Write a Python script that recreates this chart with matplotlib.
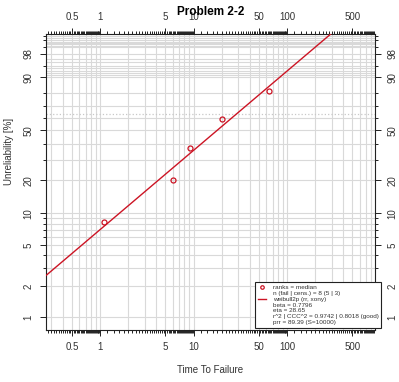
import numpy as np
import matplotlib
matplotlib.use("Agg")
import matplotlib.pyplot as plt
from matplotlib.lines import Line2D
from matplotlib import ticker

plt.rcParams['font.family'] = ['Liberation Sans', 'DejaVu Sans']

# データ
fail_time = [1.1, 6.0, 9.1, 20.0, 64.7]
unrel_pct = [8.33, 20.24, 36.90, 59.13, 81.35]
# 回帰直線 (両端)
line_time = [0.25, 300.0]
line_pct = [2.45, 99.80]

x_labels = [0.5, 1, 5, 10, 50, 100, 500]
y_labels = [1, 2, 5, 10, 20, 50, 90, 98]
legend_text = ["ranks = median", "n (fail | cens.) = 8 (5 | 3)",
               "weibull2p (rr, xony)", "beta = 0.7796", "eta = 28.65",
               "r^2 | CCC^2 = 0.9742 | 0.8018 (good)", "prr = 89.39 (S=10000)"]

red = '#cc1424'
grid_c = '#d9d9d9'


def fwd(p):
    p = np.clip(np.asarray(p, dtype=float), 1e-6, 100 - 1e-9)
    return np.log(-np.log(1 - p / 100.0))


def inv(y):
    return 100.0 * (1 - np.exp(-np.exp(y)))


fig = plt.figure(figsize=(3.99, 3.82), dpi=100)
ax = fig.add_axes([0.1145, 0.1361, 0.8253, 0.7741])
ax.set_xscale('log')
ax.set_yscale('function', functions=(fwd, inv))
ax.set_xlim(0.262, 873)
ax.set_ylim(0.751, 99.769)

# グリッド
vgrid = [k * 10.0 ** d for d in range(-1, 3) for k in range(1, 10)]
for v in vgrid:
    if 0.262 < v < 873:
        ax.axvline(v, color=grid_c, lw=0.8, zorder=0)
hgrid = list(range(1, 10)) + list(range(10, 100, 10)) + list(range(91, 100)) + \
    [99.1, 99.2, 99.3, 99.4, 99.5, 99.6, 99.7]
for h in hgrid:
    ax.axhline(h, color=grid_c, lw=0.8, zorder=0)
ax.axhline(63.2, color='#c8c8c8', lw=0.9, ls=':', zorder=0)

# データ点と直線
ax.plot(line_time, line_pct, color=red, lw=1.0, zorder=3)
ax.plot(fail_time, unrel_pct, 'o', mfc='none', mec=red, ms=3.6, mew=0.9, zorder=4)

# 軸目盛り
ax.xaxis.set_major_locator(ticker.FixedLocator(x_labels))
ax.xaxis.set_major_formatter(ticker.FixedFormatter([str(v) for v in x_labels]))
xminor = [k * 10.0 ** d for d in range(-1, 3) for k in np.arange(1, 10, 0.2)]
ax.xaxis.set_minor_locator(ticker.FixedLocator(xminor))
ax.xaxis.set_minor_formatter(ticker.NullFormatter())

ax.yaxis.set_major_locator(ticker.FixedLocator(y_labels))
ax.yaxis.set_major_formatter(ticker.FixedFormatter([str(v) for v in y_labels]))
yminor = [3, 4, 6, 7, 8, 9, 30, 40, 60, 70, 80, 95, 99, 99.5, 99.7]
ax.yaxis.set_minor_locator(ticker.FixedLocator(yminor))
ax.yaxis.set_minor_formatter(ticker.NullFormatter())

ax.tick_params(which='both', top=True, right=True, labeltop=True, labelright=True,
               direction='out', color='#222222', width=0.7)
ax.tick_params(which='major', length=4.3, pad=4.5, labelsize=7, labelcolor='#333333')
ax.tick_params(which='minor', length=2.0)
ax.tick_params(axis='y', labelrotation=90)
for lab in ax.yaxis.get_ticklabels(which='major'):
    lab.set_va('center')
for sp in ax.spines.values():
    sp.set_linewidth(0.8)
    sp.set_color('#222222')

ax.set_xlabel("Time To Failure", fontsize=7, color='#333333', labelpad=9)
ax.set_ylabel("Unreliability [%]", fontsize=7, color='#333333')
ax.yaxis.set_label_coords(-0.097, 0.605)
fig.text(0.527, 0.968, "Problem 2-2", ha='center', va='center',
         fontsize=8.5, fontweight='bold')

# 凡例
handles = [Line2D([], [], ls='none', marker='o', mfc='none', mec=red, ms=2.5, mew=0.9),
           Line2D([], [], ls='none'),
           Line2D([], [], color=red, lw=1.0)] + [Line2D([], [], ls='none')] * 4
leg = ax.legend(handles, legend_text, loc='lower left', bbox_to_anchor=(0.636, 0.007),
                borderaxespad=0, fontsize=4.6, labelspacing=0.05, borderpad=0.45,
                handlelength=1.3, handletextpad=1.0, fancybox=False, framealpha=1,
                edgecolor='#222222')
leg.get_frame().set_linewidth(0.8)
for t in leg.get_texts():
    t.set_color('#333333')
leg.set_zorder(10)

fig.savefig("out.png", dpi=100)
